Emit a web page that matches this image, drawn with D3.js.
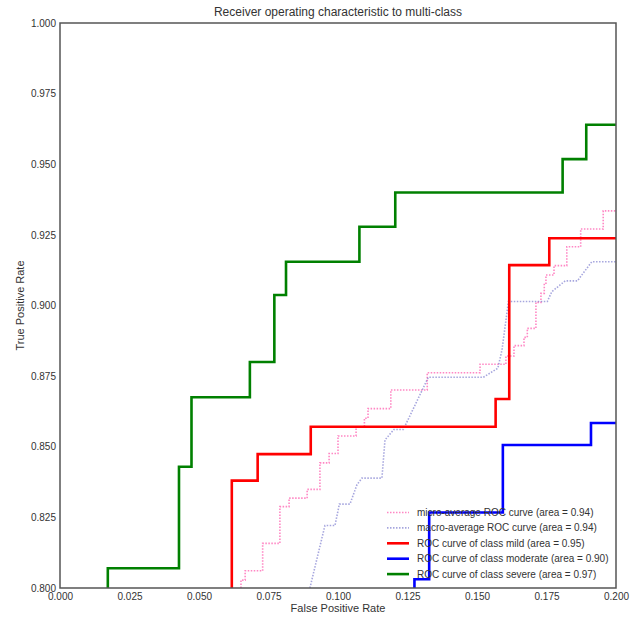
<!DOCTYPE html>
<html>
<head>
<meta charset="utf-8">
<script src="https://d3js.org/d3.v7.min.js"></script>
<style>
  body { margin: 0; background: #fff; }
  text { font-family: "Liberation Sans", Arial, sans-serif; fill: #333; }
</style>
</head>
<body>
<svg width="638" height="617"></svg>
<script>
  // ROC points (fpr, tpr)
  var microFpr = [0.0651,0.0651,0.0666,0.0666,0.0729,0.0729,0.0791,0.0791,0.0824,0.0824,0.0889,0.0889,0.0935,0.0935,0.0968,0.0968,0.1000,0.1000,0.1065,0.1065,0.1095,0.1095,0.1108,0.1108,0.1190,0.1190,0.1321,0.1321,0.1511,0.1511,0.1604,0.1604,0.1633,0.1633,0.1669,0.1669,0.1681,0.1681,0.1712,0.1712,0.1730,0.1730,0.1742,0.1742,0.1748,0.1748,0.1777,0.1777,0.1823,0.1823,0.1873,0.1873,0.1954,0.1954,0.2000];
  var microTpr = [0.8000,0.8028,0.8028,0.8061,0.8061,0.8158,0.8158,0.8288,0.8288,0.8318,0.8318,0.8349,0.8349,0.8443,0.8443,0.8476,0.8476,0.8538,0.8538,0.8571,0.8571,0.8601,0.8601,0.8635,0.8635,0.8701,0.8701,0.8762,0.8762,0.8792,0.8792,0.8821,0.8821,0.8858,0.8858,0.8887,0.8887,0.8919,0.8919,0.9011,0.9011,0.9043,0.9043,0.9079,0.9079,0.9108,0.9108,0.9141,0.9141,0.9208,0.9208,0.9271,0.9271,0.9335,0.9335];

  var macroFpr = [0.0899,0.0953,0.0989,0.1005,0.1043,0.1068,0.1086,0.1158,0.1169,0.1201,0.1235,0.1325,0.1523,0.1575,0.1590,0.1613,0.1753,0.1769,0.1817,0.1861,0.1913,0.2000];
  var macroTpr = [0.8000,0.8221,0.8221,0.8297,0.8297,0.8365,0.8389,0.8389,0.8524,0.8561,0.8561,0.8746,0.8746,0.8778,0.8843,0.9014,0.9014,0.9049,0.9087,0.9087,0.9155,0.9155];

  var mildFpr = [0.0618,0.0618,0.0711,0.0711,0.0902,0.0902,0.1567,0.1567,0.1616,0.1616,0.1760,0.1760,0.2000];
  var mildTpr = [0.8000,0.8380,0.8380,0.8474,0.8474,0.8571,0.8571,0.8669,0.8669,0.9143,0.9143,0.9238,0.9238];

  var moderateFpr = [0.1275,0.1275,0.1328,0.1328,0.1593,0.1593,0.1910,0.1910,0.2000];
  var moderateTpr = [0.8000,0.8031,0.8031,0.8267,0.8267,0.8506,0.8506,0.8584,0.8584];

  var severeFpr = [0.0172,0.0172,0.0428,0.0428,0.0473,0.0473,0.0683,0.0683,0.0771,0.0771,0.0813,0.0813,0.1077,0.1077,0.1206,0.1206,0.1808,0.1808,0.1893,0.1893,0.2000];
  var severeTpr = [0.8000,0.8070,0.8070,0.8429,0.8429,0.8675,0.8675,0.8800,0.8800,0.9037,0.9037,0.9155,0.9155,0.9279,0.9279,0.9400,0.9400,0.9518,0.9518,0.9640,0.9640];

  var seriesNames = ["micro-average ROC curve (area = 0.94)",
                     "macro-average ROC curve (area = 0.94)",
                     "ROC curve of class mild (area = 0.95)",
                     "ROC curve of class moderate (area = 0.90)",
                     "ROC curve of class severe (area = 0.97)"];
  var xTicks = [0, 0.025, 0.05, 0.075, 0.1, 0.125, 0.15, 0.175, 0.2];
  var yTicks = [0.8, 0.825, 0.85, 0.875, 0.9, 0.925, 0.95, 0.975, 1.0];

  var series = [
    {fpr: microFpr, tpr: microTpr, color: "#ff5fb0", width: 1.6, dash: "1.5,1.5", opacity: 0.75},
    {fpr: macroFpr, tpr: macroTpr, color: "#6a6ac8", width: 1.6, dash: "1.5,1.5", opacity: 0.6},
    {fpr: mildFpr, tpr: mildTpr, color: "#ff0000", width: 2.6, dash: null, opacity: 1},
    {fpr: moderateFpr, tpr: moderateTpr, color: "#0000ff", width: 2.6, dash: null, opacity: 1},
    {fpr: severeFpr, tpr: severeTpr, color: "#008000", width: 2.6, dash: null, opacity: 1}
  ];

  // note: "top" is taken by window.top, so prefix these
  var plotLeft = 60, plotRight = 616, plotTop = 23, plotBottom = 588;
  var x = d3.scaleLinear().domain([0, 0.2]).range([plotLeft, plotRight]);
  var y = d3.scaleLinear().domain([0.8, 1.0]).range([plotBottom, plotTop]);

  var svg = d3.select("svg");

  svg.append("clipPath").attr("id", "plotclip")
    .append("rect")
    .attr("x", plotLeft).attr("y", plotTop)
    .attr("width", plotRight - plotLeft).attr("height", plotBottom - plotTop);

  var line = d3.line()
    .x(function(d){ return x(d[0]); })
    .y(function(d){ return y(d[1]); });

  var plot = svg.append("g").attr("clip-path", "url(#plotclip)");
  series.forEach(function(s){
    var pts = s.fpr.map(function(f, i){ return [f, s.tpr[i]]; });
    plot.append("path")
      .attr("d", line(pts))
      .attr("fill", "none")
      .attr("stroke", s.color)
      .attr("stroke-width", s.width)
      .attr("stroke-opacity", s.opacity)
      .attr("stroke-dasharray", s.dash);
  });

  // axes, no tick marks, just labels
  var xAxis = svg.append("g")
    .attr("transform", "translate(0," + plotBottom + ")")
    .call(d3.axisBottom(x).tickValues(xTicks).tickSize(0).tickPadding(5).tickFormat(d3.format(".3f")));
  var yAxis = svg.append("g")
    .attr("transform", "translate(" + plotLeft + ",0)")
    .call(d3.axisLeft(y).tickValues(yTicks).tickSize(0).tickPadding(4).tickFormat(d3.format(".3f")));
  [xAxis, yAxis].forEach(function(a){
    a.select(".domain").remove();
    a.selectAll("text")
      .attr("font-size", "10px")
      .attr("font-family", "'Liberation Sans', Arial, sans-serif")
      .attr("fill", "#444");
  });

  // frame
  svg.append("rect")
    .attr("x", plotLeft).attr("y", plotTop)
    .attr("width", plotRight - plotLeft).attr("height", plotBottom - plotTop)
    .attr("fill", "none")
    .attr("stroke", "#555")
    .attr("stroke-width", 1.5);

  svg.append("text")
    .attr("x", (plotLeft + plotRight) / 2).attr("y", 16)
    .attr("text-anchor", "middle")
    .attr("font-size", "12px")
    .text("Receiver operating characteristic to multi-class");

  svg.append("text")
    .attr("x", (plotLeft + plotRight) / 2).attr("y", 612)
    .attr("text-anchor", "middle")
    .attr("font-size", "11px")
    .text("False Positive Rate");

  svg.append("text")
    .attr("transform", "translate(24," + (plotTop + plotBottom) / 2 + ") rotate(-90)")
    .attr("text-anchor", "middle")
    .attr("font-size", "11px")
    .text("True Positive Rate");

  // legend (no box)
  var legend = svg.append("g").selectAll("g")
    .data(series)
    .enter()
    .append("g")
    .attr("transform", function(d, i){ return "translate(387," + (512.5 + i * 15.4) + ")"; });
  legend.append("line")
    .attr("x1", 0).attr("x2", 22)
    .attr("stroke", function(d){ return d.color; })
    .attr("stroke-width", function(d){ return d.width; })
    .attr("stroke-opacity", function(d){ return d.opacity; })
    .attr("stroke-dasharray", function(d){ return d.dash; });
  legend.append("text")
    .attr("x", 30).attr("dy", "0.35em")
    .attr("font-size", "10px")
    .text(function(d, i){ return seriesNames[i]; });
</script>
</body>
</html>
